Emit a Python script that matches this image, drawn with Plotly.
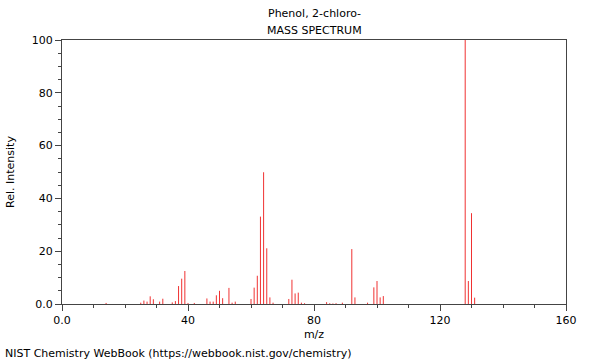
import plotly.graph_objects as go

mz = [14, 25, 26, 27, 28, 29, 31, 32, 35, 36, 37, 38, 39, 40, 42,
      46, 47, 48, 49, 50, 51, 53, 54, 55, 60, 61, 62, 63, 64, 65, 66, 67,
      72, 73, 74, 75, 76, 77, 84, 85, 86, 87, 89, 92, 93, 97, 99, 100, 101, 102,
      128, 129, 130, 131]
intensity = [0.4, 0.5, 1.3, 0.9, 2.9, 1.8, 0.9, 2.0, 0.6, 1.1, 6.8, 9.6, 12.5, 0.4, 0.4,
             2.1, 0.9, 0.9, 3.3, 5.0, 2.2, 6.1, 0.5, 0.9, 1.9, 6.2, 10.7, 33.1, 49.9, 21.1, 2.5, 0.5,
             1.9, 9.2, 4.0, 4.3, 0.5, 0.3, 0.7, 0.3, 0.2, 0.3, 0.5, 20.8, 2.5, 0.5, 6.3, 8.7, 2.5, 3.0,
             100.0, 8.7, 34.4, 2.4]

x_ticks = [0, 40, 80, 120, 160]
x_labels = ["0.0", "40", "80", "120", "160"]
y_ticks = [0, 20, 40, 60, 80, 100]
y_labels = ["0.0", "20", "40", "60", "80", "100"]

xs, ys = [], []
for m, v in zip(mz, intensity):
    xs += [m, m, None]
    ys += [0, v, None]

fig = go.Figure()
fig.add_trace(go.Scatter(x=xs, y=ys, mode="lines",
                         line=dict(color="rgb(240,50,50)", width=1),
                         hoverinfo="skip", showlegend=False))

font = dict(family="DejaVu Sans", size=11, color="black")
axis_common = dict(showline=True, linecolor="#444", linewidth=1, mirror=True,
                   ticks="outside", ticklen=6, tickcolor="#444", showgrid=False,
                   zeroline=False, tickfont=font)

fig.update_xaxes(range=[0, 160], tickvals=x_ticks, ticktext=x_labels,
                 title=dict(text="m/z", font=font, standoff=4),
                 minor=dict(dtick=10, tick0=0, ticklen=3, ticks="outside", tickcolor="#444"),
                 **axis_common)
fig.update_yaxes(range=[0, 100], tickvals=y_ticks, ticktext=y_labels,
                 title=dict(text="Rel. Intensity", font=font, standoff=14),
                 minor=dict(dtick=5, tick0=0, ticklen=3, ticks="outside", tickcolor="#444"),
                 **axis_common)

PW, PH, L, T = 504, 264, 62, 40

fig.update_layout(
    width=600, height=360,
    margin=dict(l=L, r=34, t=T, b=56, autoexpand=False),
    plot_bgcolor="white", paper_bgcolor="white",
    font=font,
    annotations=[
        dict(text="Phenol, 2-chloro-", x=0.5, y=1, xref="paper", yref="paper",
             yshift=27, yanchor="middle", showarrow=False, font=font),
        dict(text="MASS SPECTRUM", x=0.5, y=1, xref="paper", yref="paper",
             yshift=10, yanchor="middle", showarrow=False, font=font),
        dict(text="NIST Chemistry WebBook (https://webbook.nist.gov/chemistry)",
             x=(3 - L) / PW, y=-(353 - (T + PH)) / PH, xref="paper", yref="paper",
             showarrow=False, font=font, xanchor="left", yanchor="middle"),
    ],
)

fig.write_html("out.html", config={"displayModeBar": False},
               post_script="document.body.style.margin='0';")
